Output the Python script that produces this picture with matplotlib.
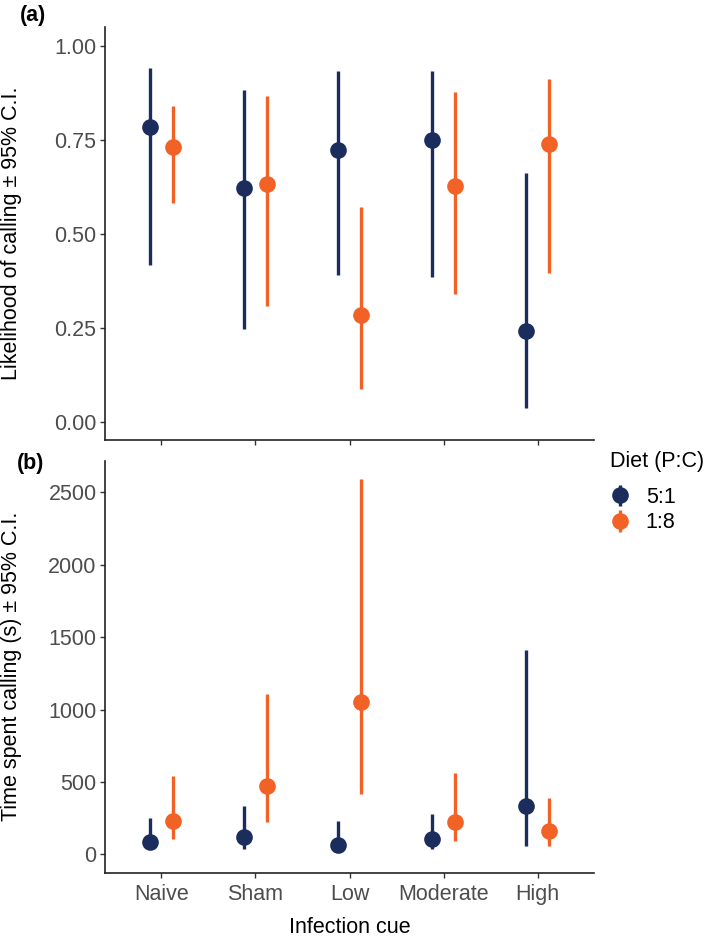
import matplotlib
matplotlib.use("Agg")
import matplotlib.pyplot as plt
import numpy as np

plt.rcParams['font.family'] = ['Liberation Sans', 'DejaVu Sans']

cues = ["Naive", "Sham", "Low", "Moderate", "High"]
diets = ["5:1", "1:8"]
diet_colors = ["#1b2d5c", "#f26125"]

# (a) likelihood of calling, estimate and 95% C.I.
call_51 = [0.784, 0.623, 0.723, 0.750, 0.240]
call_51_lo = [0.417, 0.247, 0.389, 0.386, 0.037]
call_51_hi = [0.941, 0.882, 0.934, 0.934, 0.663]
call_18 = [0.731, 0.632, 0.284, 0.628, 0.738]
call_18_lo = [0.581, 0.308, 0.086, 0.339, 0.396]
call_18_hi = [0.841, 0.867, 0.572, 0.877, 0.913]

# (b) time spent calling (s), estimate and 95% C.I.
time_51 = [84, 121, 68, 105, 337]
time_51_lo = [40, 36, 30, 36, 61]
time_51_hi = [250, 337, 231, 278, 1412]
time_18 = [233, 475, 1055, 227, 164]
time_18_lo = [105, 227, 416, 95, 61]
time_18_hi = [542, 1108, 2591, 561, 388]

fig = plt.figure(figsize=(7.09, 9.40), dpi=100)
ax_a = fig.add_axes([0.148, 0.532, 0.690, 0.439])
ax_b = fig.add_axes([0.148, 0.0716, 0.690, 0.4384])

x = np.arange(len(cues))
dodge = 0.125
fs = 15.5


def draw_panel(ax, series):
    handles = []
    for i, (est, lo, hi) in enumerate(series):
        est = np.array(est)
        err = [est - np.array(lo), np.array(hi) - est]
        off = -dodge if i == 0 else dodge
        h = ax.errorbar(x + off, est, yerr=err, fmt='o', color=diet_colors[i],
                        ms=12, elinewidth=2.4, capsize=0, mew=0, zorder=3)
        handles.append(h)
    ax.set_xlim(-0.6, 4.6)
    ax.set_xticks(x)
    for side in ["top", "right"]:
        ax.spines[side].set_visible(False)
    for side in ["left", "bottom"]:
        ax.spines[side].set_linewidth(1.2)
        ax.spines[side].set_color("#222222")
    ax.tick_params(length=3.5, width=1.0, color="#333333", labelsize=fs,
                   labelcolor="#4d4d4d", pad=2.5)
    ax.tick_params(axis="x", pad=4.5)
    return handles


draw_panel(ax_a, [(call_51, call_51_lo, call_51_hi), (call_18, call_18_lo, call_18_hi)])
ax_a.set_ylim(-0.049, 1.050)
ax_a.set_yticks([0, 0.25, 0.5, 0.75, 1.0])
ax_a.set_yticklabels(["0.00", "0.25", "0.50", "0.75", "1.00"])
ax_a.set_xticklabels([])
ax_a.set_ylabel("Likelihood of calling ± 95% C.I.", fontsize=fs)
ax_a.yaxis.set_label_coords(-0.17, 0.5)

hb = draw_panel(ax_b, [(time_51, time_51_lo, time_51_hi), (time_18, time_18_lo, time_18_hi)])
ax_b.set_ylim(-126, 2719)
ax_b.set_yticks([0, 500, 1000, 1500, 2000, 2500])
ax_b.set_xticklabels(cues)
ax_b.set_ylabel("Time spent calling (s) ± 95% C.I.", fontsize=fs)
ax_b.yaxis.set_label_coords(-0.17, 0.5)
ax_b.set_xlabel("Infection cue", fontsize=fs, labelpad=9)

# legend: title placed separately so the gaps follow the reference
fig.text(610 / 709, 1 - 461.7 / 940, "Diet (P:C)", fontsize=fs, va="center", ha="left")
fig.legend(hb, diets, loc="upper left",
           bbox_to_anchor=(608 / 709, 1 - 487 / 940), frameon=False, fontsize=fs,
           borderpad=0, borderaxespad=0,
           handlelength=1.15, handletextpad=0.6, labelspacing=0.2)

fig.text(0.028, 1 - 15 / 940, "(a)", fontsize=fs, fontweight="bold", va="center")
fig.text(0.024, 1 - 463 / 940, "(b)", fontsize=fs, fontweight="bold", va="center")

fig.savefig("out.png", dpi=100)
